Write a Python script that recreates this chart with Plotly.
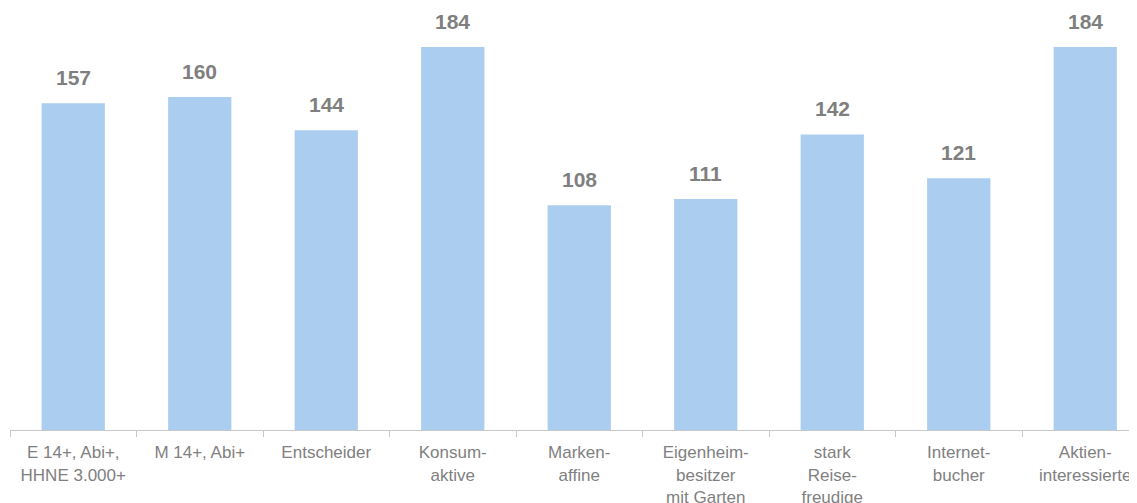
import plotly.graph_objects as go

categories = ["E 14+, Abi+,<br>HHNE 3.000+", "M 14+, Abi+", "Entscheider", "Konsum-<br>aktive",
              "Marken-<br>affine", "Eigenheim-<br>besitzer<br>mit Garten", "stark<br>Reise-<br>freudige",
              "Internet-<br>bucher", "Aktien-<br>interessierte"]
values = [157, 160, 144, 184, 108, 111, 142, 121, 184]

bar_color = "#abcdf0"
text_color = "#7f7f7f"

fig = go.Figure()
fig.add_trace(go.Bar(x=categories, y=values, width=0.5, marker=dict(color=bar_color, line=dict(width=0)),
                     hoverinfo="skip"))

for c, v in zip(categories, values):
    fig.add_annotation(x=c, y=v, text=f"<b>{v}</b>", showarrow=False, yanchor="bottom", yshift=12,
                       font=dict(family="Liberation Sans, Arial, sans-serif", size=21, color=text_color))

# page body has an 8px default margin; figure is sized/offset to compensate
fig.update_layout(
    width=1129, height=495,
    margin=dict(l=2, r=0, t=0, b=73, autoexpand=False),
    plot_bgcolor="white", paper_bgcolor="white",
    showlegend=False,
    font=dict(family="Liberation Sans, Arial, sans-serif", size=17, color=text_color),
)
fig.update_xaxes(type="category", range=[-0.5, -0.5 + 1127 / 126.5], tickson="boundaries",
                 ticks="outside", ticklen=6, tickcolor="#c8c8c8", showline=True, linecolor="#c8c8c8",
                 linewidth=1, showgrid=False, automargin=False, ticklabelstandoff=7,
                 tickfont=dict(size=17, color=text_color))
fig.update_yaxes(range=[0, 422 / 2.0815], visible=False, showgrid=False, zeroline=False, automargin=False)

fig.write_html("out.html")
